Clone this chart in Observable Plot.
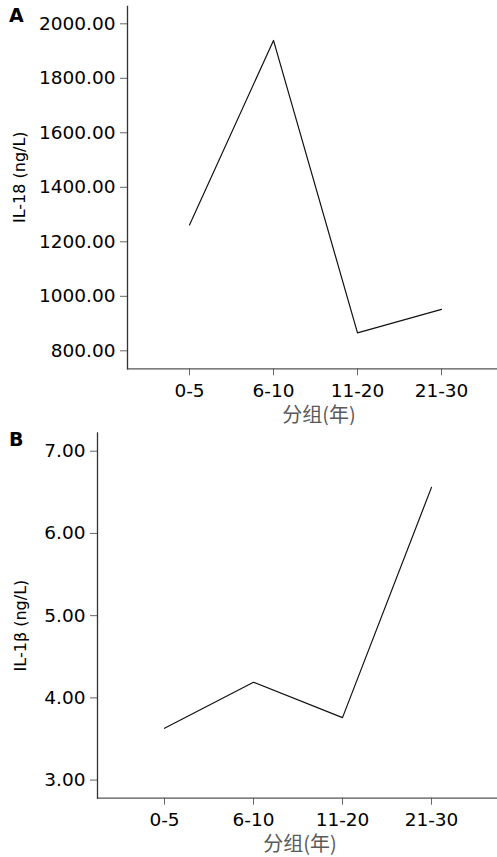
<!DOCTYPE html>
<html>
<head>
<meta charset="utf-8">
<script src="https://cdn.jsdelivr.net/npm/d3@7"></script>
<script src="https://cdn.jsdelivr.net/npm/@observablehq/plot@0.6"></script>
<style>
  body { margin: 0; background: #fff; }
  #wrap { position: relative; width: 497px; height: 857px; }
  .panel { position: absolute; left: 0; width: 497px; }
  .tag { position: absolute; font-family: "DejaVu Sans", sans-serif; font-weight: 900; font-size: 19px; color: #000; line-height: 1; }
</style>
</head>
<body>
<div id="wrap">
  <div class="panel" id="pa" style="top:0"></div>
  <div class="panel" id="pb" style="top:425px"></div>
  <div class="tag" style="left:9px;top:6px">A</div>
  <div class="tag" style="left:9px;top:430px">B</div>
</div>
<script>
const groups = ["0-5", "6-10", "11-20", "21-30"];
const il18 = [1262, 1939, 866, 952];
const il1b = [3.63, 4.19, 3.76, 6.56];
const il18Ticks = [800, 1000, 1200, 1400, 1600, 1800, 2000];
const il1bTicks = [3, 4, 5, 6, 7];
const xLabel = "分组(年)";
const yLabelA = "IL-18 (ng/L)";
const yLabelB = "IL-1β (ng/L)";

function panel({values, yDomain, yTicks, yLabel, yLabelAt, height, marginLeft, marginTop, marginBottom, padding, align, yLabelX, xLabelDx}) {
  const data = groups.map((g, i) => ({g, v: values[i]}));
  return Plot.plot({
    width: 497,
    height,
    marginLeft,
    marginRight: 0,
    marginTop,
    marginBottom,
    style: {fontFamily: "'DejaVu Sans', sans-serif", fontSize: "18.5px", color: "#000", background: "#fff", overflow: "visible"},
    x: {type: "point", domain: groups, padding, align},
    y: {domain: yDomain},
    marks: [
      Plot.axisX({tickSize: 7, tickPadding: 8, stroke: "#666", fill: "#000", label: null, fontSize: 18.5}),
      Plot.axisY({ticks: yTicks, tickFormat: d3.format(".2f"), tickSize: 7, tickPadding: 5, stroke: "#666", fill: "#000", label: null, fontSize: 18.5}),
      Plot.ruleY([yDomain[0]], {stroke: "#555", strokeWidth: 1.3}),
      Plot.frame({anchor: "left", stroke: "#333", strokeWidth: 1.3}),
      Plot.lineY(data, {x: "g", y: "v", stroke: "#111", strokeWidth: 1.2}),
      Plot.text([yLabel], {frameAnchor: "left", y: () => yLabelAt, rotate: -90, dx: yLabelX - marginLeft, fontSize: 16, fill: "#000", textAnchor: "middle", lineAnchor: "middle"}),
      Plot.text([xLabel], {frameAnchor: "bottom", dx: xLabelDx, dy: 46.5, fontSize: 20, fill: "#5a5a5a", lineAnchor: "middle", fontFamily: "'Noto Sans CJK SC', sans-serif"})
    ]
  });
}

document.getElementById("pa").append(panel({
  values: il18, yDomain: [734, 2063.5], yTicks: il18Ticks, yLabel: yLabelA, yLabelAt: 1437,
  height: 425, marginLeft: 127, marginTop: 6, marginBottom: 56.7,
  padding: 0.679, align: 0.526, yLabelX: 19.5, xLabelDx: 6.5
}));
document.getElementById("pb").append(panel({
  values: il1b, yDomain: [2.78, 7.224], yTicks: il1bTicks, yLabel: yLabelB, yLabelAt: 4.88,
  height: 432, marginLeft: 97, marginTop: 7.3, marginBottom: 59.3,
  padding: 0.726, align: 0.5, yLabelX: 20, xLabelDx: 2.5
}));
</script>
</body>
</html>
